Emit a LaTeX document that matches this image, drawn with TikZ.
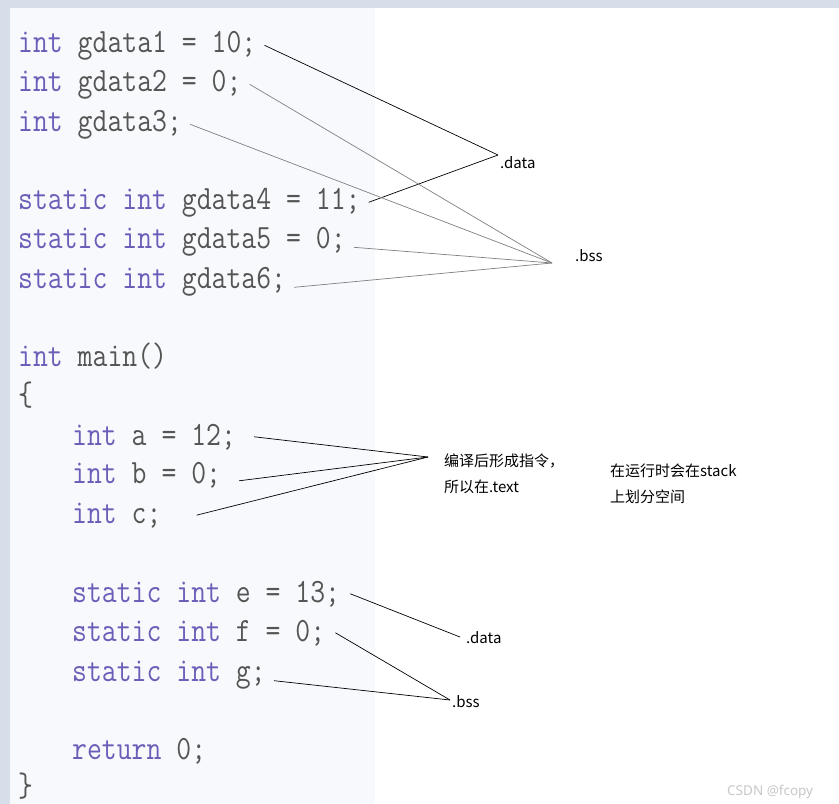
\documentclass[tikz,border=0pt]{standalone}
\usepackage{fontspec}
\usepackage{graphicx}
\usepackage{tikz}
\usetikzlibrary{positioning}
\newfontfamily\cjk{Noto Sans CJK SC}
\definecolor{kwblue}{RGB}{105,95,185}
\definecolor{codegray}{RGB}{85,85,85}
\definecolor{panel}{RGB}{248,249,252}
\definecolor{strip}{RGB}{214,222,234}
\definecolor{mark}{RGB}{200,200,200}
\newcommand{\kw}[1]{\textcolor{kwblue}{#1}}
\newcommand{\src}[1]{\scalebox{.85}[1]{#1}}

\begin{document}
\begin{tikzpicture}[
  x=1pt, y=-1pt,
  code/.style={anchor=base west, inner sep=0pt, text=codegray,
               font=\fontsize{34}{40}\selectfont\ttfamily},
  note/.style={anchor=base west, inner sep=0pt, align=left,
               font=\cjk\fontsize{15}{26}\selectfont},
  link/.style={draw=black, line width=0.7pt},
  faint/.style={draw=gray, line width=0.7pt}
]
\useasboundingbox (0,0) rectangle (839,804);
\fill[white] (0,0) rectangle (839,804);
\fill[strip] (0,0) rectangle (839,8);
\fill[strip] (0,0) rectangle (10,804);
\fill[panel] (10,8) rectangle (375,804);

% globals
\node[code] (gd1) at (18,52) {\src{\kw{int} gdata1 = 10;}};
\node[code] (gd2) at (18,91) {\src{\kw{int} gdata2 = 0;}};
\node[code] (gd3) at (18,131) {\src{\kw{int} gdata3;}};
\node[code] (gd4) at (18,209) {\src{\kw{static} \kw{int} gdata4 = 11;}};
\node[code] (gd5) at (18,248) {\src{\kw{static} \kw{int} gdata5 = 0;}};
\node[code] (gd6) at (18,288) {\src{\kw{static} \kw{int} gdata6;}};

% main
\node[code] (fmain) at (18,366) {\src{\kw{int} main()}};
\node[code] (lbrace) at (18,405) {\src{\{}};
\node[code] (la) at (72,445) {\src{\kw{int} a = 12;}};
\node[code] (lb) at (72,483) {\src{\kw{int} b = 0;}};
\node[code] (lc) at (72,523) {\src{\kw{int} c;}};
\node[code] (le) at (72,602) {\src{\kw{static} \kw{int} e = 13;}};
\node[code] (lf) at (72,641) {\src{\kw{static} \kw{int} f = 0;}};
\node[code] (lg) at (72,681) {\src{\kw{static} \kw{int} g;}};
\node[code] (lret) at (72,759) {\src{\kw{return} 0;}};
\node[code] (rbrace) at (18,796) {\src{\}}};

% labels
\node[note] (data1) at (500,168) {.data};
\node[note] (bss1) at (575,261) {.bss};
\node[note] (text) at (444,492) {编译后形成指令，\\所以在.text};
\node[note] (stack) at (610,502) {在运行时会在stack\\上划分空间};
\node[note] (data2) at (466,643) {.data};
\node[note] (bss2) at (452,707) {.bss};
\node[anchor=base west, inner sep=0pt, text=mark,
      font=\fontspec{Noto Sans}\fontsize{13.5}{13.5}\selectfont] (csdn) at (727,795) {CSDN @fcopy};

\coordinate (datatip) at (498,155);
\coordinate (bsstip) at (552,263);
\coordinate (texttip) at (428,457);
\coordinate (datatip2) at (460,637);
\coordinate (bsstip2) at (450,700);

\draw[link] ([xshift=8pt]gd1.east) -- (datatip);
\draw[link] ([xshift=8pt]gd4.east) -- (datatip);
\draw[faint] ([xshift=8pt]gd2.east) -- (bsstip);
\draw[faint] ([xshift=8pt]gd3.east) -- (bsstip);
\draw[faint] ([xshift=8pt,yshift=-6pt]gd5.east) -- (bsstip);
\draw[faint] ([xshift=8pt,yshift=-6pt]gd6.east) -- (bsstip);

\draw[link] ([xshift=18pt]la.east) -- (texttip);
\draw[link] ([xshift=18pt,yshift=-6pt]lb.east) -- (texttip);
\draw[link] ([xshift=35pt]lc.east) -- (texttip);
\draw[link] ([xshift=10pt]le.east) -- (datatip2);
\draw[link] ([xshift=10pt]lf.east) -- (bsstip2);
\draw[link] ([xshift=8pt,yshift=-6pt]lg.east) -- (bsstip2);
\end{tikzpicture}
\end{document}
